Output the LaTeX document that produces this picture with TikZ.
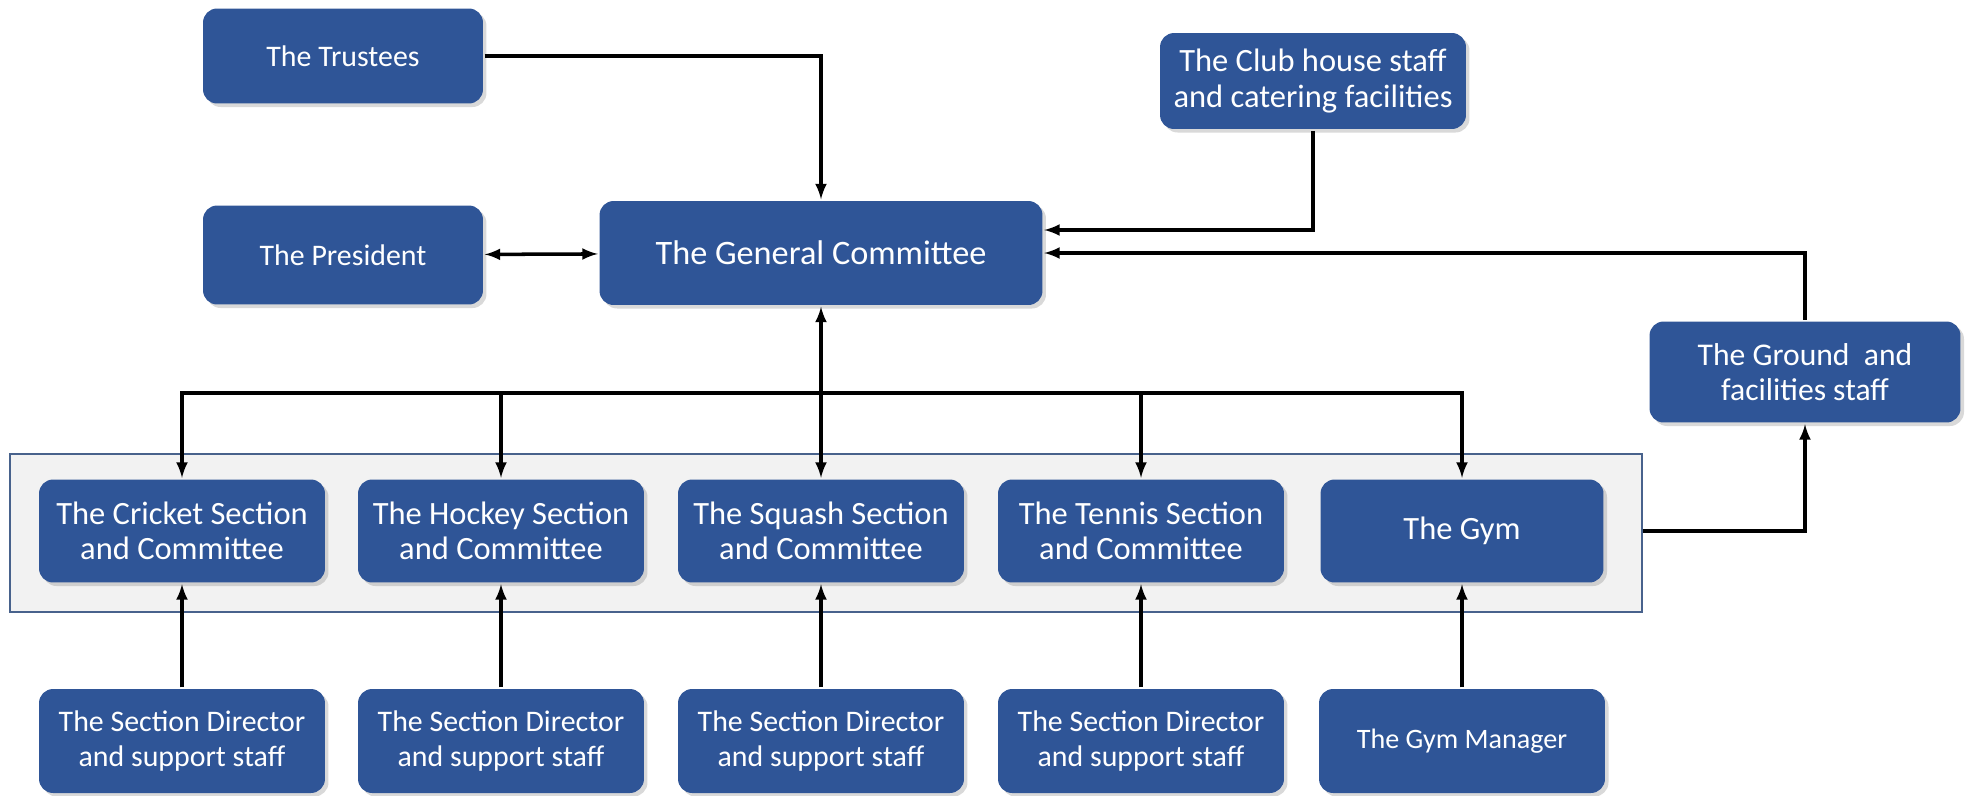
\documentclass[tikz,border=0pt]{standalone}
\usepackage{fontspec}
\setmainfont{Carlito}
\usepackage{tikz}
\usetikzlibrary{shadows}
\usetikzlibrary{calc}
\definecolor{clubblue}{RGB}{47,85,151}
\definecolor{framegrey}{RGB}{242,242,242}
\definecolor{frameblue}{RGB}{72,98,140}
\tikzset{
every picture/.style={line width=2pt, >=latex, x=0.02cm, y=-0.02cm},
%%%%%%%%%%  Node styles
unit/.style={fill=clubblue, text=white, rounded corners=8pt, align=center,
             font=\fontsize{18.5}{20}\selectfont, inner sep=2pt,
             minimum width=5.72cm, minimum height=2.06cm,
             drop shadow={opacity=0.3, shadow xshift=2pt, shadow yshift=-2pt}},
small_unit/.style={unit, font=\fontsize{17}{20}\selectfont},
big_unit/.style={unit, font=\fontsize{19.5}{24}\selectfont,
                 minimum width=8.86cm, minimum height=2.08cm},
staff/.style={unit, font=\fontsize{17}{20}\selectfont, minimum height=2.08cm},
%%%% frame round the sections
section_frame/.style={draw=frameblue, fill=framegrey, line width=0.8pt,
                      minimum width=32.64cm, minimum height=3.16cm}
}

\begin{document}
\begin{tikzpicture}
\useasboundingbox (0,0) rectangle (1968,795);
\node[small_unit, minimum width=5.6cm, minimum height=1.9cm] (trustees) at (343,56) {The Trustees};
\node[small_unit, minimum width=5.6cm, minimum height=1.98cm] (president) at (343,255) {The President};
\node[big_unit] (gc) at (821,253) {The General Committee};
\node[unit, minimum width=6.12cm, minimum height=1.92cm] (club) at (1313,81) {The Club house staff\\and catering facilities};
\node[unit, font=\fontsize{18}{20}\selectfont, minimum width=6.22cm, minimum height=2.02cm] (ground) at (1805,372) {The Ground~~and\\facilities staff};
\node[section_frame] (sections) at (826,533) {};
\node[unit] (cricket) at (182,531) {The Cricket Section\\and Committee};
\node[unit] (hockey) at (501,531) {The Hockey Section\\and Committee};
\node[unit] (squash) at (821,531) {The Squash Section\\and Committee};
\node[unit] (tennis) at (1141,531) {The Tennis Section\\and Committee};
\node[unit, minimum width=5.66cm] (gym) at (1462,531) {The Gym};
\node[staff] (dcricket) at (182,741) {The Section Director\\and support staff};
\node[staff] (dhockey) at (501,741) {The Section Director\\and support staff};
\node[staff] (dsquash) at (821,741) {The Section Director\\and support staff};
\node[staff] (dtennis) at (1141,741) {The Section Director\\and support staff};
\node[staff, font=\fontsize{16}{20}\selectfont] (gymmgr) at (1462,741) {The Gym Manager};
\coordinate (bus) at (821,393);
\draw[->] (trustees) -| (gc);
\draw[<->] (president) -- (gc);
\draw[->] (club) |- ($(gc.east)+(0,-23)$);
\draw[->] (ground) |- (gc);
\draw[->] (sections.east |- gym) -| (ground);
\draw[<->] (gc) -- (squash);
\foreach \s in {cricket,hockey,tennis,gym}
  \draw[->] (bus) -| (\s);
\foreach \d/\s in {dcricket/cricket,dhockey/hockey,dsquash/squash,dtennis/tennis,gymmgr/gym}
  \draw[->] (\d) -- (\s);
\end{tikzpicture}
\end{document}
